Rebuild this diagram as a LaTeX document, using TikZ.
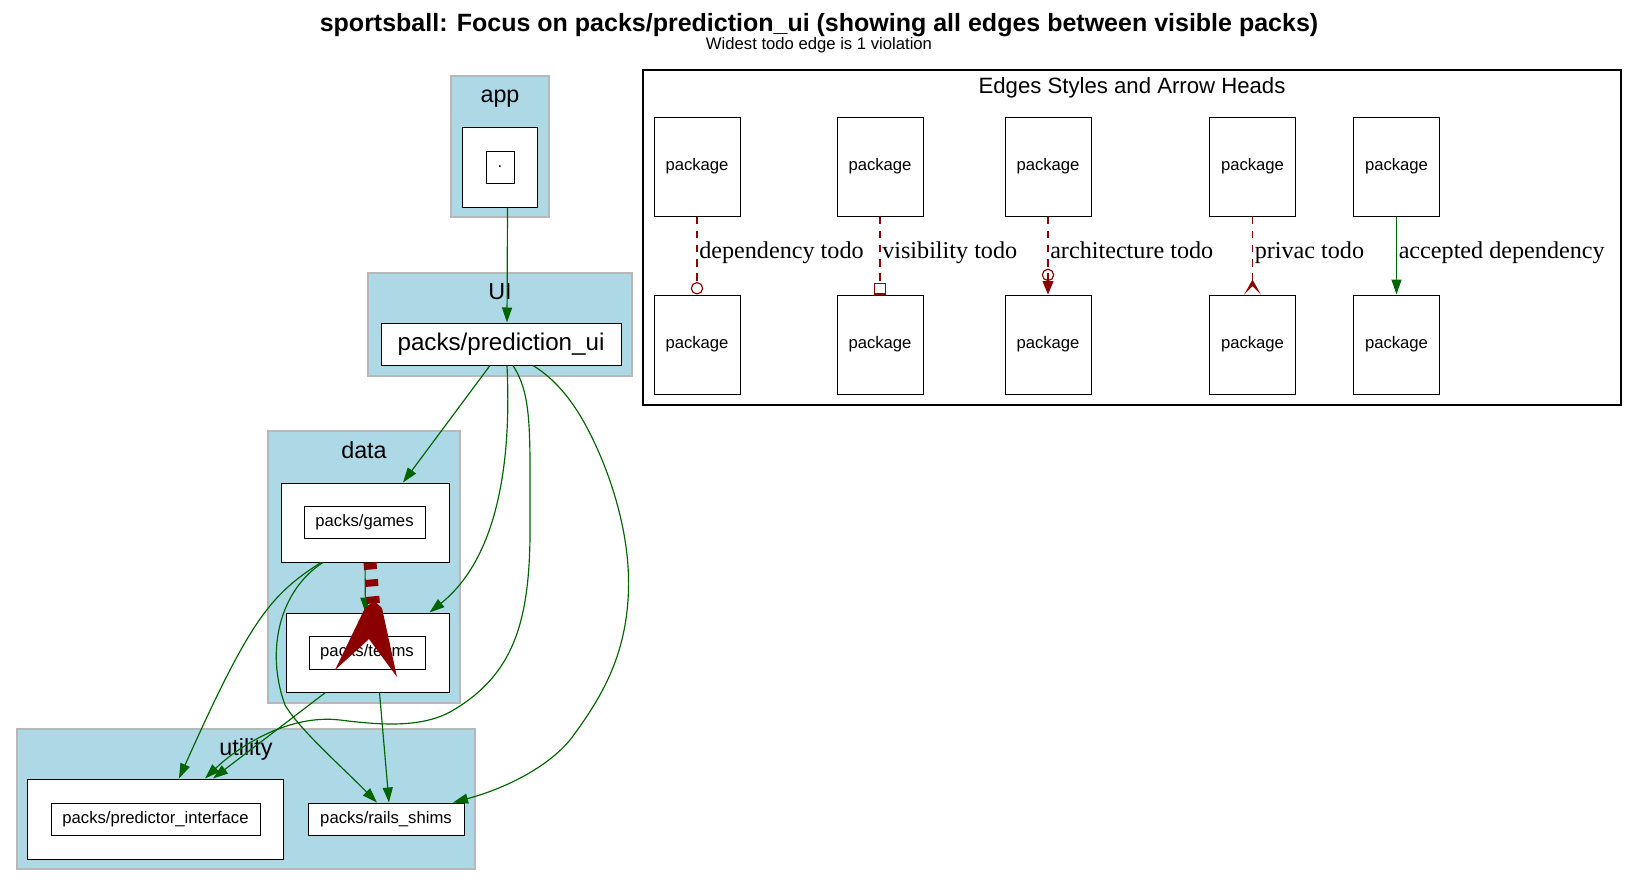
\documentclass[tikz,border=0pt]{standalone}
\usepackage{fontspec}
\setmainfont{Liberation Sans}
\newfontfamily\edgefont{Liberation Serif}
\usepackage[HTML]{xcolor}
\usetikzlibrary{positioning, calc, arrows.meta}

\definecolor{clusterfill}{HTML}{ADD8E6}
\definecolor{clusterdraw}{HTML}{B8B8B8}
\definecolor{depgreen}{HTML}{006400}
\definecolor{tododark}{HTML}{8B0000}
\newcommand{\unitpx}{0.6pt}

\tikzset{
  cluster/.style={fill=clusterfill, draw=clusterdraw, line width=0.9pt},
  clusterlabel/.style={font=\fontsize{14}{17}\selectfont},
  pkgbox/.style={draw, fill=white, line width=0.6pt, inner sep=0pt, font=\fontsize{10}{12}\selectfont},
  dep/.style={draw=depgreen, line width=0.7pt, -{Triangle[length=9pt, width=6pt]}},
  todo/.style={draw=tododark, line width=0.7pt, dash pattern=on 4.5pt off 4pt},
  edgelabel/.style={anchor=base west, inner sep=1pt, yshift=-1.8pt, font=\edgefont\fontsize{14.5}{17}\selectfont},
}

\begin{document}
\begin{tikzpicture}[x=\unitpx, y=-\unitpx]
\useasboundingbox (0,0) rectangle (1639,886);

\node[font=\bfseries\fontsize{15}{18}\selectfont] (title) at (819,25) {sportsball: Focus on packs/prediction\_ui (showing all edges between visible packs)};
\node[font=\fontsize{10}{12}\selectfont] (subtitle) at (819,45) {Widest todo edge is 1 violation};

% clusters
\draw[cluster] (451,76) rectangle (549,217);
\draw[cluster] (368,273) rectangle (632,376);
\draw[cluster] (268,431) rectangle (460,703);
\draw[cluster] (17,729) rectangle (475,869);
\node[clusterlabel] (applabel) at (500,99) {app};
\node[clusterlabel] (uilabel) at (500,292) {UI};
\node[clusterlabel] (datalabel) at (364,450) {data};
\node[clusterlabel] (utilitylabel) at (246,749) {utility};

% packages
\node[pkgbox, minimum width=75*\unitpx, minimum height=80*\unitpx] (appbox) at (499.5,167) {};
\node[pkgbox, minimum width=28*\unitpx, minimum height=32*\unitpx] (appname) at (500,167) {.};
\node[pkgbox, minimum width=240*\unitpx, minimum height=42*\unitpx, font=\fontsize{14.5}{17}\selectfont] (ui) at (501,344) {packs/prediction\_ui};
\node[pkgbox, minimum width=168*\unitpx, minimum height=79*\unitpx] (games) at (365,522.5) {};
\node[pkgbox, minimum width=121*\unitpx, minimum height=32*\unitpx] (gamesname) at (364.5,522) {packs/games};
\node[pkgbox, minimum width=163*\unitpx, minimum height=79*\unitpx] (teams) at (367.5,652.5) {};
\node[pkgbox, minimum width=116*\unitpx, minimum height=33*\unitpx] (teamsname) at (367,652.5) {packs/teams};
\node[pkgbox, minimum width=256*\unitpx, minimum height=80*\unitpx] (pred) at (155,819) {};
\node[pkgbox, minimum width=209*\unitpx, minimum height=32*\unitpx] (predname) at (155.5,819) {packs/predictor\_interface};
\node[pkgbox, minimum width=156*\unitpx, minimum height=32*\unitpx] (rails) at (386,819) {packs/rails\_shims};

% dependencies
\draw[dep] ($(appbox.south)+(8,0)$) -- ($(ui.north)+(6,0)$);
\draw[dep] ($(ui.south)+(-11,0)$) -- ($(games.north)+(38,0)$);
\draw[dep] ($(ui.south)+(6,0)$) .. controls (512,470) and (495,560) .. ($(teams.north)+(62,0)$);
\draw[dep] ($(ui.south)+(12,0)$) .. controls (532,395) and (530,430) .. (530,520)
  .. controls (531,620) and (515,675) .. (450,712)
  .. controls (420,728) and (380,725) .. (340,720)
  .. controls (290,714) and (240,745) .. ($(pred.north)+(50,0)$);
\draw[dep] ($(ui.south)+(32,0)$) .. controls (565,385) and (585,420) .. (600,455)
  .. controls (615,490) and (632,545) .. (628,600)
  .. controls (624,660) and (600,700) .. (570,740)
  .. controls (545,770) and (500,790) .. ($(rails.north)+(67,0)$);
\draw[dep] ($(games.south)+(-44,0)$) .. controls (270,595) and (250,620) .. ($(pred.north)+(24,0)$);
\draw[dep] ($(games.south)+(-42,0)$) .. controls (280,590) and (265,650) .. (285,705)
  .. controls (300,730) and (340,765) .. ($(rails.north)+(-9,0)$);
\draw[dep] ($(teams.south)+(-42,0)$) -- ($(pred.north)+(58,0)$);
\draw[dep] ($(teams.south)+(12,0)$) -- ($(rails.north)+(3,0)$);
\draw[dep] (games.south) -- ($(teams.north)+(-2,0)$);

% widest todo edge
\draw[todo, line width=7.8pt, dash pattern=on 4.2pt off 6pt] ($(games.south)+(5,0)$) -- ($(teams.north)+(6,-8)$);
\fill[tododark] (365,608) -- (335,670) -- (369,639) -- (397,677) -- (382,608) -- (374,601) -- cycle;

% legend
\draw[line width=0.8pt] (643,70) rectangle (1621,405);
\node[font=\fontsize{13.3}{16}\selectfont] (legendtitle) at (1132,88) {Edges Styles and Arrow Heads};
\foreach \i/\x in {1/697,2/880,3/1048,4/1252.5,5/1396.5} {
  \node[pkgbox, minimum width=86*\unitpx, minimum height=99*\unitpx] (top\i) at (\x,166.5) {package};
  \node[pkgbox, minimum width=86*\unitpx, minimum height=99*\unitpx] (bot\i) at (\x,344.5) {package};
}
\draw[todo, -{Circle[open, length=7.5pt, width=7.5pt]}] (top1) -- node[edgelabel] {dependency todo} (bot1);
\draw[todo, -{Square[open, length=7pt, width=7pt]}] (top2) -- node[edgelabel] {visibility todo} (bot2);
\draw[todo, -{Circle[open, length=7.5pt, width=7.5pt] Triangle[length=8pt, width=6.5pt]}] (top3) -- node[edgelabel] {architecture todo} (bot3);
\draw[todo, -{Stealth[reversed, length=9pt, width=10pt, inset=5pt]}] (top4) -- node[edgelabel] {privac todo} (bot4);
\draw[dep] (top5) -- node[edgelabel] {accepted dependency} (bot5);
\end{tikzpicture}
\end{document}
